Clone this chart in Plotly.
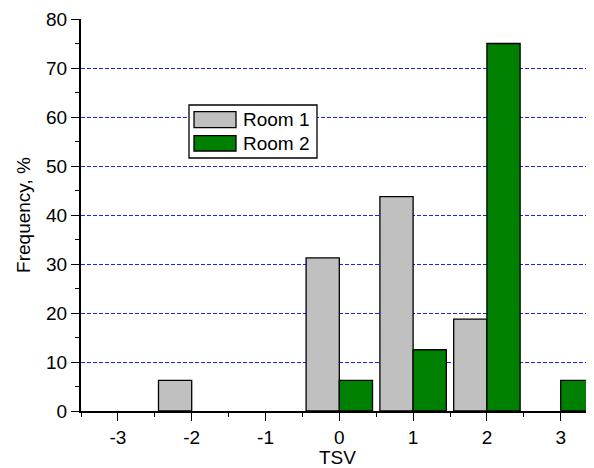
import plotly.graph_objects as go

tsv = [-3, -2, -1, 0, 1, 2, 3]
room1 = [0, 6.25, 0, 31.25, 43.75, 18.75, 0]
room2 = [0, 0, 0, 6.25, 12.5, 75, 6.25]
series_names = ["Room 1", "Room 2"]
colors = ["#C0C0C0", "#008000"]

FONT = "Arial, Liberation Sans, sans-serif"
FS = 19

fig = go.Figure()
for name, vals, col in zip(series_names, [room1, room2], colors):
    fig.add_trace(go.Bar(
        x=tsv, y=vals, name=name, showlegend=False,
        marker=dict(color=col,
                    line=dict(color="black", width=[0 if v == 0 else 1.3 for v in vals])),
    ))

# page body has an 8px default margin; compensate
OFF = 8
W, H = 594 - OFF, 468 - OFF
ml, mr, mt, mb = 73, 0, 11, 57
pw, ph = W - ml - mr, H - mt - mb

def px(xp):
    return (xp - OFF - ml) / pw

def py(yp):
    return (H - mb - (yp - OFF)) / ph

shapes = [
    dict(type="rect", xref="paper", yref="paper", x0=px(189), x1=px(317), y0=py(158), y1=py(105),
         line=dict(color="black", width=1.3), fillcolor="white", layer="above"),
    dict(type="rect", xref="paper", yref="paper", x0=px(194), x1=px(236), y0=py(127.7), y1=py(111.7),
         line=dict(color="black", width=1.3), fillcolor=colors[0], layer="above"),
    dict(type="rect", xref="paper", yref="paper", x0=px(194), x1=px(236), y0=py(151), y1=py(135.7),
         line=dict(color="black", width=1.3), fillcolor=colors[1], layer="above"),
]
annotations = [
    dict(xref="paper", yref="paper", x=px(241), y=py(119.7), text=series_names[0], showarrow=False,
         xanchor="left", yanchor="middle", font=dict(family=FONT, size=FS, color="black")),
    dict(xref="paper", yref="paper", x=px(241), y=py(143.5), text=series_names[1], showarrow=False,
         xanchor="left", yanchor="middle", font=dict(family=FONT, size=FS, color="black")),
]

fig.update_layout(
    width=W, height=H,
    margin=dict(l=ml, r=mr, t=mt, b=mb, autoexpand=False),
    plot_bgcolor="white", paper_bgcolor="white",
    barmode="group", bargap=0.1, bargroupgap=0,
    font=dict(family=FONT, size=FS, color="black"),
    shapes=shapes, annotations=annotations,
    xaxis=dict(
        automargin=False,
        range=[-3.5, 3.451], tickmode="array", tickvals=tsv, ticktext=[str(v) for v in tsv],
        ticks="outside", ticklen=8, tickwidth=1.3, tickcolor="black",
        showline=True, linecolor="black", linewidth=2, showgrid=False, zeroline=False,
        minor=dict(tickmode="array", tickvals=[-3.5, -2.5, -1.5, -0.5, 0.5, 1.5, 2.5],
                   ticks="outside", ticklen=4, tickwidth=1.3, tickcolor="black"),
        title=dict(text="TSV", font=dict(size=FS), standoff=2),
        tickfont=dict(size=FS),
    ),
    yaxis=dict(
        automargin=False,
        range=[0, 80], tickmode="linear", tick0=0, dtick=10,
        ticks="outside", ticklen=8, tickwidth=1.3, tickcolor="black",
        showline=True, linecolor="black", linewidth=2, zeroline=False,
        showgrid=True, gridcolor="#2020FF", gridwidth=1, griddash="4px,2px",
        minor=dict(tickmode="linear", tick0=5, dtick=10, ticks="outside", ticklen=4,
                   tickwidth=1.3, tickcolor="black", showgrid=False),
        title=dict(text="Frequency, %", font=dict(size=FS), standoff=10),
        tickfont=dict(size=FS),
    ),
)

fig.write_html("out.html")
